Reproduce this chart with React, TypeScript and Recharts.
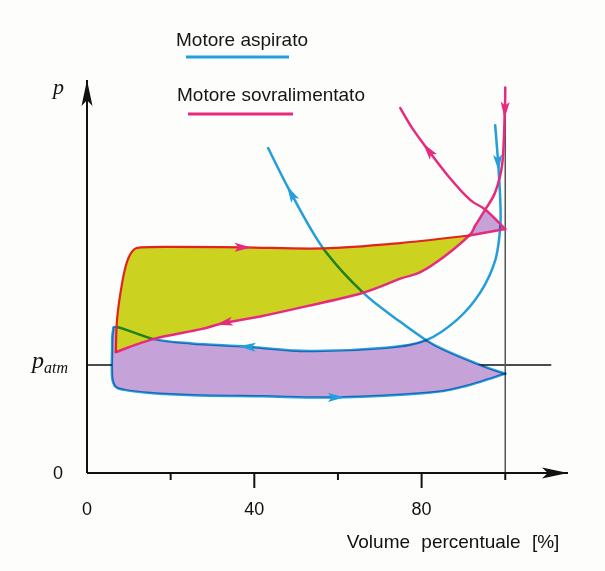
import React from "react";
import { ComposedChart, XAxis, YAxis, Scatter, ReferenceLine, Legend } from "recharts";

type Pt = [number, number]; // [volume %, pressione / p_atm]

// Motore sovralimentato
const boostIntake: Pt[] = [
  [6.9, 1.12], [7.2, 1.43], [8.4, 1.76], [9.6, 1.96], [11.0, 2.06], [12.9, 2.09],
  [20.0, 2.095], [37.3, 2.09], [56.5, 2.08], [74.9, 2.13], [91.4, 2.2], [100, 2.26],
];
const boostCompression: Pt[] = [
  [100, 3.57], [99.9, 3.36], [99.3, 2.87], [97.6, 2.6], [95.2, 2.44], [92.8, 2.29],
  [91.4, 2.2], [85.6, 2.01], [79.7, 1.86], [74.9, 1.8], [66.0, 1.67], [53.1, 1.55],
  [41.4, 1.45], [32.8, 1.39], [27.0, 1.33], [15.8, 1.24], [6.9, 1.12],
];
const boostExpansion: Pt[] = [
  [100, 2.26], [95.2, 2.44], [91.6, 2.53], [86.8, 2.73], [81.6, 2.99], [78.0, 3.18], [74.9, 3.38],
];

// Motore aspirato
const naCompression: Pt[] = [
  [100, 0.92], [94.7, 0.99], [85.4, 1.14], [81.1, 1.23], [74.9, 1.4], [66.0, 1.67],
  [56.5, 2.08], [48.8, 2.59], [43.3, 3.01],
];
const naCycle: Pt[] = [
  [97.6, 3.22], [98.3, 2.87], [98.8, 2.53], [98.8, 2.28], [97.6, 1.97], [94.0, 1.67],
  [88.5, 1.42], [81.1, 1.23], [71.5, 1.16], [53.1, 1.13], [38.3, 1.17], [25.0, 1.2],
  [16.0, 1.24], [7.4, 1.35], [6.2, 1.31], [6.0, 1.15], [6.0, 0.89], [6.8, 0.8],
  [8.9, 0.77], [15.1, 0.74], [25.4, 0.72], [42.0, 0.71], [59.6, 0.7], [80.9, 0.74],
  [90.0, 0.8], [100, 0.92],
];

const curves = { boostIntake, boostCompression, boostExpansion, naCompression, naCycle };
type CurveName = keyof typeof curves;

// arrows sit on a curve point and point towards the next one
const arrowMarks: { curve: CurveName; at: number }[] = [
  { curve: "boostIntake", at: 7 },
  { curve: "boostCompression", at: 1 },
  { curve: "boostCompression", at: 13 },
  { curve: "boostExpansion", at: 4 },
  { curve: "naCompression", at: 7 },
  { curve: "naCycle", at: 1 },
  { curve: "naCycle", at: 10 },
  { curve: "naCycle", at: 22 },
];

const xTicks = [0, 20, 40, 60, 80, 100];
const xLabels = [0, 40, 80];
const yTicks = [0, 1];

const BLUE = "#239fdc";
const PINK = "#e62a7e";
const RED = "#e2231f";
const YELLOW = "#cbd21f";
const PURPLE = "#c5a2d8";
const SANS = "'Liberation Sans', Arial, sans-serif";
const SERIF = "'Liberation Serif', 'DejaVu Serif', serif";

const legendItems = [
  { label: "Motore aspirato", color: BLUE },
  { label: "Motore sovralimentato", color: PINK },
];

const W = 605;
const H = 571;
const AX = 1; // axis band size
const M = { top: 80, right: 37, bottom: 98 - AX, left: 87 - AX };
const X_MAX = 115;
const Y_MAX = 3.64;
const KX = (W - 87 - M.right) / X_MAX;
const KY = (H - M.top - 98) / Y_MAX;

const seg = (c: Pt[], from: number, to: number) =>
  from <= to ? c.slice(from, to + 1) : c.slice(to, from + 1).reverse();
const rows = (pts: Pt[]) => pts.map(([v, p]) => ({ v, p }));

const loopLow = [seg(naCycle, 7, 25), seg(naCompression, 0, 3)];
const boostArea = [seg(boostIntake, 0, 10), seg(boostCompression, 6, 16)];
const boostTip = [seg(boostIntake, 10, 11), seg(boostExpansion, 0, 1), seg(boostCompression, 4, 6)];

type XY = { x: number; y: number };
function catmull(pts: XY[], move = true) {
  if (!pts.length) return "";
  let d = move ? `M${pts[0].x},${pts[0].y}` : "";
  for (let i = 0; i < pts.length - 1; i++) {
    const p0 = pts[i - 1] || pts[i];
    const p1 = pts[i];
    const p2 = pts[i + 1];
    const p3 = pts[i + 2] || p2;
    const c1x = p1.x + (p2.x - p0.x) / 6;
    const c1y = p1.y + (p2.y - p0.y) / 6;
    const c2x = p2.x - (p3.x - p1.x) / 6;
    const c2y = p2.y - (p3.y - p1.y) / 6;
    d += `C${c1x},${c1y} ${c2x},${c2y} ${p2.x},${p2.y}`;
  }
  return d;
}

const regionLine = (pieces: Pt[][], fill: string) => {
  const lens = pieces.map((p) => p.length);
  return (lp: any) => {
    const pts: XY[] = lp.points || [];
    let k = 0;
    let d = "";
    lens.forEach((n, j) => {
      d += catmull(pts.slice(k, k + n), j === 0);
      k += n;
    });
    return <path d={d + "Z"} fill={fill} stroke="none" />;
  };
};

const strokeLine = (color: string, width: number, multiply = false) => (lp: any) => (
  <path
    d={catmull(lp.points || [])}
    fill="none"
    stroke={color}
    strokeWidth={width}
    strokeLinejoin="round"
    strokeLinecap="round"
    style={multiply ? { mixBlendMode: "multiply" } : undefined}
  />
);

const noDot = () => <g />;

const arrowShape = (fill: string, len: number, half: number, tipAnchor = false) => (props: any) => {
  const { cx, cy, payload } = props;
  const tip = tipAnchor ? 0 : len / 2;
  const back = tip - len;
  const d = `M${tip},0 L${back},${-half} L${back + len * 0.22},0 L${back},${half} Z`;
  return <path d={d} fill={fill} transform={`translate(${cx},${cy}) rotate(${payload.angle})`} />;
};

const arrowRows = (family: "na" | "boost") =>
  arrowMarks
    .filter((a) => a.curve.startsWith(family))
    .map((a) => {
      const c = curves[a.curve];
      const prev = c[Math.max(0, a.at - 1)];
      const next = c[Math.min(c.length - 1, a.at + 1)];
      const angle = (Math.atan2(-(next[1] - prev[1]) * KY, (next[0] - prev[0]) * KX) * 180) / Math.PI;
      return { v: c[a.at][0], p: c[a.at][1], angle };
    });

const axisArrows = [
  { v: X_MAX, p: 0, angle: 0 },
  { v: 0, p: Y_MAX, angle: -90 },
];

function XTick(props: any) {
  const { x, y, payload } = props;
  const v = payload.value;
  const major = xLabels.includes(v);
  return (
    <g>
      {v > 0 && <line x1={x} x2={x} y1={y} y2={y + (major ? 15 : 7)} stroke="#111" strokeWidth={2} />}
      {major && (
        <text x={x} y={y + 42} textAnchor="middle" fontSize={18} fontFamily={SANS} fill="#111">
          {v}
        </text>
      )}
    </g>
  );
}

function YTick(props: any) {
  const { x, y, payload } = props;
  if (payload.value === 0) {
    return (
      <text x={x - 29} y={y + 6} textAnchor="middle" fontSize={18} fontFamily={SANS} fill="#111">
        0
      </text>
    );
  }
  return (
    <text x={x - 55} y={y + 3} fontSize={24} fontStyle="italic" fontFamily={SERIF} fill="#111">
      p
      <tspan fontSize={16} dy={5}>atm</tspan>
    </text>
  );
}

function LegendBox() {
  const textY = [46, 101];
  const lineY = [57, 114];
  const textX = [176, 177];
  const lineX = [[186, 289], [188, 293]];
  return (
    <svg width={W} height={125} style={{ display: "block" }}>
      {legendItems.map((it, i) => (
        <g key={it.label}>
          <text x={textX[i]} y={textY[i]} fontSize={19} fontFamily={SANS} fill="#161616">
            {it.label}
          </text>
          <line x1={lineX[i][0]} x2={lineX[i][1]} y1={lineY[i]} y2={lineY[i]} stroke={it.color} strokeWidth={3} />
        </g>
      ))}
    </svg>
  );
}

export default function App() {
  return (
    <div style={{ position: "absolute", left: 0, top: 0, width: W, height: H, background: "#fdfdfc" }}>
      <ComposedChart width={W} height={H} margin={M}>
        <XAxis
          dataKey="v"
          type="number"
          domain={[0, X_MAX]}
          ticks={xTicks}
          height={AX}
          tickSize={0}
          tickMargin={0}
          tickLine={false}
          tick={<XTick />}
          axisLine={{ stroke: "#111", strokeWidth: 2 }}
          label={{
            content: (lp: any) => (
              <text
                x={(lp.viewBox?.x ?? 87) + 366}
                y={(lp.viewBox?.y ?? 473) + 75}
                textAnchor="middle"
                fontSize={19}
                wordSpacing={6}
                fontFamily={SANS}
                fill="#111"
              >
                Volume percentuale [%]
              </text>
            ),
          }}
        />
        <YAxis
          dataKey="p"
          type="number"
          domain={[0, Y_MAX]}
          ticks={yTicks}
          width={AX}
          tickSize={0}
          tickMargin={0}
          tickLine={false}
          tick={<YTick />}
          axisLine={{ stroke: "#111", strokeWidth: 2 }}
          label={{
            content: (lp: any) => (
              <text x={(lp.viewBox?.x ?? 86) - 33} y={(lp.viewBox?.y ?? 80) + 14} fontSize={22} fontStyle="italic" fontFamily={SERIF} fill="#111">
                p
              </text>
            ),
          }}
        />
        <Legend
          layout="horizontal"
          verticalAlign="middle"
          align="center"
          content={<LegendBox />}
          wrapperStyle={{ top: 0, left: 0, width: W, height: 125 }}
        />
        <ReferenceLine segment={[{ x: 0, y: 1 }, { x: 111, y: 1 }]} stroke="#111" strokeWidth={1.5} />
        <ReferenceLine segment={[{ x: 100, y: 0 }, { x: 100, y: 3.56 }]} stroke="#555" strokeWidth={1.5} />

        <Scatter data={rows(loopLow.flat())} line={regionLine(loopLow, PURPLE)} shape={noDot} isAnimationActive={false} legendType="none" />
        <Scatter data={rows(boostArea.flat())} line={regionLine(boostArea, YELLOW)} shape={noDot} isAnimationActive={false} legendType="none" />
        <Scatter data={rows(boostTip.flat())} line={regionLine(boostTip, PURPLE)} shape={noDot} isAnimationActive={false} legendType="none" />

        <Scatter data={rows(naCompression)} line={strokeLine(BLUE, 2.5, true)} shape={noDot} isAnimationActive={false} legendType="none" />
        <Scatter data={rows(naCycle)} line={strokeLine(BLUE, 2.5, true)} shape={noDot} isAnimationActive={false} legendType="none" />
        <Scatter data={rows(boostCompression)} line={strokeLine(PINK, 2.5)} shape={noDot} isAnimationActive={false} legendType="none" />
        <Scatter data={rows(boostExpansion)} line={strokeLine(PINK, 2.5)} shape={noDot} isAnimationActive={false} legendType="none" />
        <Scatter data={rows(seg(boostIntake, 10, 11))} line={strokeLine(PINK, 2.5)} shape={noDot} isAnimationActive={false} legendType="none" />
        <Scatter data={rows(seg(boostIntake, 0, 10))} line={strokeLine(RED, 2.2)} shape={noDot} isAnimationActive={false} legendType="none" />

        <Scatter data={arrowRows("na")} shape={arrowShape(BLUE, 17, 4.5)} isAnimationActive={false} legendType="none" />
        <Scatter data={arrowRows("boost")} shape={arrowShape(PINK, 17, 4.5)} isAnimationActive={false} legendType="none" />
        <Scatter data={axisArrows} shape={arrowShape("#111", 26, 5.5, true)} isAnimationActive={false} legendType="none" />
      </ComposedChart>
    </div>
  );
}
